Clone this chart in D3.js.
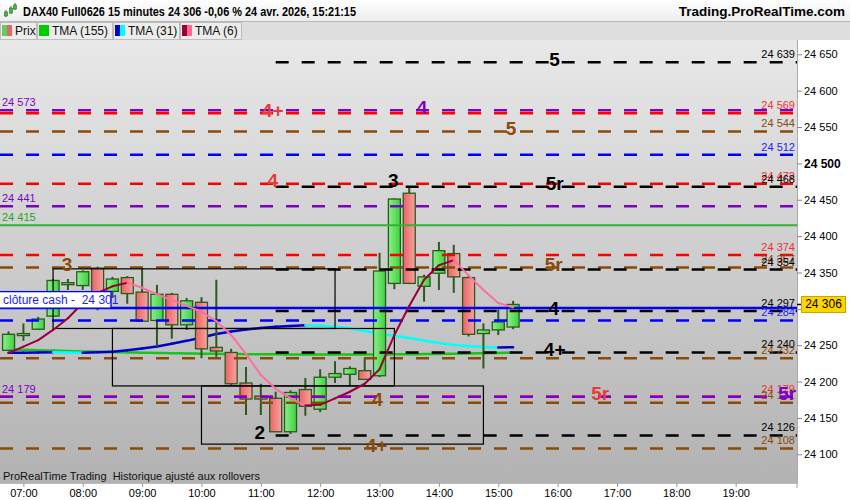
<!DOCTYPE html>
<html><head><meta charset="utf-8">
<script src="https://cdn.jsdelivr.net/npm/d3@7"></script>
<style>
html,body{margin:0;padding:0;background:#fff;}
svg{display:block;font-family:"Liberation Sans",Arial,sans-serif;}
</style></head>
<body>
<svg id="c" width="850" height="500"></svg>
<script>
// ---------- DATA ----------
const times = ["06:45","07:00","07:15","07:30","07:45","08:00","08:15","08:30","08:45","09:00","09:15","09:30","09:45","10:00","10:15","10:30","10:45","11:00","11:15","11:30","11:45","12:00","12:15","12:30","12:45","13:00","13:15","13:30","13:45","14:00","14:15","14:30","14:45","15:00","15:15"];
const opens  = [24243,24264,24272,24290,24334,24332,24356,24324,24343,24323,24284,24320,24278,24309,24247,24240,24198,24180,24177,24131,24189,24162,24206,24210,24215,24208,24335,24459,24331,24349,24376,24343,24266,24271,24275];
const highs  = [24269,24280,24289,24341,24341,24353,24358,24344,24345,24356,24333,24322,24315,24316,24340,24245,24220,24197,24186,24188,24205,24217,24228,24221,24233,24377,24452,24467,24347,24392,24388,24345,24280,24299,24311];
const lows   = [24242,24256,24271,24289,24326,24326,24298,24315,24307,24283,24248,24259,24271,24232,24234,24195,24154,24154,24131,24128,24153,24158,24198,24194,24203,24206,24327,24334,24310,24326,24322,24262,24218,24264,24272];
const closes = [24265,24266,24286,24339,24336,24351,24303,24341,24321,24283,24320,24278,24311,24245,24242,24197,24176,24176,24131,24185,24166,24206,24211,24218,24203,24352,24451,24335,24344,24380,24344,24265,24271,24282,24306];

const tma6   = [24239,24248,24257,24271,24287,24308,24322,24331,24336,24329,24320,24312,24304,24296,24283,24264,24238,24209,24190,24177,24167,24168,24177,24186,24197,24217,24264,24304,24340,24360,24367,24346,24326,24308,24302];
const tma31  = [24239.6,24239.8,24240,24240.2,24240,24239.8,24240.3,24241,24243,24245.5,24248.3,24252,24256,24260.6,24265.4,24268.8,24271.6,24273.7,24275.3,24276.4,24277.4,24276.7,24275.5,24273,24269.5,24266,24263,24260,24256.5,24253,24250.3,24248.5,24247.5,24246.9,24247.1];
const tma155 = [24244.1,24243.6,24243.1,24242.6,24242,24241.4,24241,24240.5,24240.1,24239.7,24239.3,24239,24238.7,24238.4,24238.1,24237.9,24237.7,24237.5,24237.4,24237.3,24237.2,24237.2,24237.2,24237.2,24237.2,24237.2,24237.4,24237.6,24237.8,24238,24238.3,24238.6,24239,24239.4,24239.7];

// horizontal levels
const levelValues = [24639,24573,24569,24544,24512,24472,24468,24441,24415,24374,24357,24354,24301,24297,24284,24240,24232,24179,24179,24171,24126,24108];
const levelKinds  = ["black","purple","red","brown","blue","red","black","purple","green","red","brown","black","cash","black","blue","black","brown","red","purple","brown","black","brown"];
const levelStarts = [ "11:15",null,null,null,null,null,"11:15",null,null,null,null,"11:15",null,"11:15",null,"11:15",null,null,null,null,"11:15",null];
const levelLabelSide = ["right","left","right","right","right","right","right","left","left","right","right","right","none","right","right","right","right","right","left","right","right","right"];

// wave labels on levels
const tagTexts  = ["5","4+","4","5","4","3","5r","3","5r","4","4+","2","4","4+","5r","5r"];
const tagValues = [24639,24569,24573,24544,24472,24472,24468,24357,24357,24297,24240,24126,24171,24108,24179,24179];
const tagTimes  = ["15:57","11:12","13:43","15:13","11:12","13:14","15:57","07:44","15:56","15:56","15:57","10:59","12:58","12:57","16:43","19:52"];
const tagKinds  = ["black","red","purple","brown","red","black","black","brown","brown","black","black","black","brown","brown","red","purple"];

// boxes
const boxStarts = ["07:30","08:30","10:00"];
const boxEnds   = ["12:15","13:15","14:45"];
const boxTops   = [24355,24273,24194];
const boxBottoms= [24273,24194,24114];

const priceTicks = [24650,24600,24550,24500,24450,24400,24350,24300,24250,24200,24150,24100];
const hourTicks  = ["07:00","08:00","09:00","10:00","11:00","12:00","13:00","14:00","15:00","16:00","17:00","18:00","19:00"];
const lastPrice = 24306;
const cashClose = 24301;
const title = "DAX40 Full0626 15 minutes 24 306 -0,06 % 24 avr. 2026, 15:21:15";

// ---------- STYLES ----------
const colors = {black:"#000000",red:"#ff0000",purple:"#7f00c8",brown:"#8b4a08",blue:"#0000ff",green:"#33b233",cash:"#0000ff"};
const labelColors = {black:"#000000",red:"#ee3333",purple:"#7f00c8",brown:"#8b4a08",blue:"#2222ff",green:"#22aa22"};
const tagColors = {black:"#000000",red:"#e83a3a",purple:"#7f00c8",brown:"#8b4a08"};

const W=850,H=500, L=0, R=797, T=40, B=483;
const svg = d3.select("#c");
const day = t => { const [h,m]=t.split(":").map(Number); return new Date(2026,3,24,h,m); };
const fmt = v => d3.format(",")(v).replace(",", " ");

const x = d3.scaleTime().domain([day("07:00"),day("19:00")]).range([23.4,735.7]);
const y = d3.scaleLinear().domain([24100,24650]).range([454.3,54.3]);

const defs = svg.append("defs");
function lg(id, stops, vertical){
  const g = defs.append("linearGradient").attr("id",id).attr("x1","0").attr("y1","0")
    .attr("x2", vertical?"0":"1").attr("y2", vertical?"1":"0");
  stops.forEach(s=>g.append("stop").attr("offset",s[0]).attr("stop-color",s[1]));
}
lg("bg",[[0,"#e8e8e8"],[1,"#b2b2b2"]],true);
lg("hdr",[[0,"#ffffff"],[1,"#ececec"]],true);
lg("gc",[[0,"#8cee8c"],[1,"#3ed23e"]],false);
lg("rc",[[0,"#ec6464"],[1,"#f6a2a2"]],false);
defs.append("clipPath").attr("id","clip").append("rect").attr("x",L).attr("y",T).attr("width",R-L).attr("height",B-T);

// header
svg.append("rect").attr("x",0).attr("y",0).attr("width",W).attr("height",22).attr("fill","url(#hdr)");
svg.append("line").attr("x1",0).attr("x2",W).attr("y1",21.5).attr("y2",21.5).attr("stroke","#b8b8b8");
// small candle icon
[[6,10,17,12,15,"#3fbf3f"],[11,6,14,8,12,"#3fbf3f"],[15,3,10,5,8,"#3fbf3f"]].forEach(c=>{
  svg.append("line").attr("x1",c[0]).attr("x2",c[0]).attr("y1",c[1]).attr("y2",c[2]).attr("stroke","#2a6a2a").attr("stroke-width",1);
  svg.append("rect").attr("x",c[0]-1.5).attr("y",c[3]).attr("width",3).attr("height",c[4]-c[3]+1).attr("fill",c[5]).attr("stroke","#2a6a2a").attr("stroke-width",0.6);
});
svg.append("text").attr("x",23).attr("y",15.5).attr("font-size",12.5).attr("font-weight","bold")
  .attr("textLength",333).attr("lengthAdjust","spacingAndGlyphs").text(title);
svg.append("text").attr("x",845).attr("y",15.5).attr("text-anchor","end").attr("font-size",13.5).attr("font-weight","bold").text("Trading.ProRealTime.com");

// legend bar
svg.append("rect").attr("x",0).attr("y",22).attr("width",W).attr("height",18).attr("fill","#dedede");
const tabs = [
  {x0:0,x1:37,text:"Prix",sw:["#5ccf5c","#e06868"]},
  {x0:37,x1:113,text:"TMA (155)",sw:["#00cc00","#00cc00"]},
  {x0:113,x1:180,text:"TMA (31)",sw:["#0000cc","#00ffff"]},
  {x0:180,x1:242,text:"TMA (6)",sw:["#990033","#ff6699"]}
];
tabs.forEach(t=>{
  svg.append("rect").attr("x",t.x0+0.5).attr("y",22.5).attr("width",t.x1-t.x0-1).attr("height",17).attr("fill","#ececec").attr("stroke","#bdbdbd");
  svg.append("rect").attr("x",t.x0+2).attr("y",25).attr("width",5).attr("height",11).attr("fill",t.sw[0]);
  svg.append("rect").attr("x",t.x0+7).attr("y",25).attr("width",5).attr("height",11).attr("fill",t.sw[1]);
  svg.append("text").attr("x",t.x0+15).attr("y",35).attr("font-size",12).attr("fill","#111").text(t.text);
});

// chart bg
svg.append("rect").attr("x",L).attr("y",T).attr("width",R-L).attr("height",B-T).attr("fill","url(#bg)");
const plot = svg.append("g").attr("clip-path","url(#clip)");

// moving averages helper
function maSegments(g, vals, up, down, w){
  for(let i=1;i<vals.length;i++){
    const col = vals[i]>=vals[i-1]?up:down;
    g.append("line")
      .attr("x1",x(day(times[i-1]))).attr("y1",y(vals[i-1]))
      .attr("x2",x(day(times[i]))).attr("y2",y(vals[i]))
      .attr("stroke",col).attr("stroke-width",w).attr("stroke-linecap","round");
  }
}
// TMA 155
plot.append("path").datum(tma155)
  .attr("d",d3.line().x((d,i)=>x(day(times[i]))).y(d=>y(d)).curve(d3.curveMonotoneX))
  .attr("fill","none").attr("stroke","#18c418").attr("stroke-width",2.5);
// TMA 31
maSegments(plot.append("g"), tma31, "#0000cc", "#00ffff", 2.5);

// candles
const cw = 12;
const cg = plot.append("g");
times.forEach((t,i)=>{
  const cx = x(day(t));
  const up = closes[i]>=opens[i];
  cg.append("line").attr("x1",cx).attr("x2",cx).attr("y1",y(highs[i])).attr("y2",y(lows[i]))
    .attr("stroke","#2b5a1c").attr("stroke-width",2);
  const yt = y(Math.max(opens[i],closes[i])), yb = y(Math.min(opens[i],closes[i]));
  cg.append("rect").attr("x",cx-cw/2).attr("y",yt).attr("width",cw).attr("height",Math.max(2,yb-yt))
    .attr("fill",up?"url(#gc)":"url(#rc)").attr("stroke","#2b5a1c").attr("stroke-width",1.3);
});

// level lines
const lg2 = plot.append("g");
levelValues.forEach((v,i)=>{
  const k = levelKinds[i];
  const x0 = levelStarts[i]? x(day(levelStarts[i])) : L;
  const ln = lg2.append("line").attr("x1",x0).attr("x2",R).attr("y1",y(v)).attr("y2",y(v))
    .attr("stroke",colors[k]);
  if(k==="green"){ ln.attr("stroke-width",2); }
  else if(k==="cash"){ ln.attr("stroke-width",2.5); }
  else { ln.attr("stroke-width",2.5).attr("stroke-dasharray","13,13"); }
});

// boxes
boxStarts.forEach((s,i)=>{
  const x0=x(day(s)), x1=x(day(boxEnds[i]));
  plot.append("rect").attr("x",x0).attr("y",y(boxTops[i])).attr("width",x1-x0).attr("height",y(boxBottoms[i])-y(boxTops[i]))
    .attr("fill","none").attr("stroke","#000").attr("stroke-width",1.2);
});

// TMA 6
maSegments(plot.append("g"), tma6, "#99003a", "#ff6f9c", 2);

// level value labels
levelValues.forEach((v,i)=>{
  const side = levelLabelSide[i]; if(side==="none") return;
  const k = levelKinds[i];
  const t = plot.append("text").attr("font-size",11).attr("fill",labelColors[k]).text(fmt(v));
  if(side==="right") t.attr("x",795).attr("y",y(v)-4).attr("text-anchor","end");
  else t.attr("x",2).attr("y",y(v)-4);
});

// cash close box
plot.append("rect").attr("x",-1).attr("y",y(cashClose)-16.5).attr("width",112).attr("height",16.5)
  .attr("fill","#fff").attr("stroke","#0000ff").attr("stroke-width",1.3);
plot.append("text").attr("x",3).attr("y",y(cashClose)-4).attr("font-size",12).attr("fill","#2020ff")
  .attr("xml:space","preserve").text("clôture cash -  " + fmt(cashClose));

// wave tags
tagTexts.forEach((s,i)=>{
  plot.append("text").attr("x",x(day(tagTimes[i]))).attr("y",y(tagValues[i])-3)
    .attr("text-anchor","middle").attr("dominant-baseline","central")
    .attr("font-size",19).attr("font-weight","bold").attr("fill",tagColors[tagKinds[i]]).text(s);
});

// bottom-left text
svg.append("text").attr("x",3).attr("y",480).attr("font-size",11).attr("fill","#111")
  .attr("xml:space","preserve").text("ProRealTime Trading  Historique ajusté aux rollovers");

// right axis panel
svg.append("rect").attr("x",R).attr("y",T).attr("width",W-R).attr("height",H-T).attr("fill","#fff");
svg.append("rect").attr("x",0).attr("y",B).attr("width",W).attr("height",H-B).attr("fill","#fff");
svg.append("line").attr("x1",R+0.5).attr("x2",R+0.5).attr("y1",T).attr("y2",B).attr("stroke","#aaa");
svg.append("line").attr("x1",0).attr("x2",R).attr("y1",B+0.5).attr("y2",B+0.5).attr("stroke","#bbb");

// tick labels hidden behind the last-price tag are not drawn
const yAxis = d3.axisRight(y).tickValues(priceTicks).tickSize(5)
  .tickFormat(d => Math.abs(y(d)-y(lastPrice))<12 ? "" : fmt(d));
const ya = svg.append("g").attr("transform",`translate(${R},0)`).call(yAxis);
ya.select(".domain").remove();
ya.selectAll(".tick line").attr("stroke","#888");
ya.selectAll(".tick text").attr("x",7).attr("font-size",11).attr("font-family","Liberation Sans, Arial").attr("fill","#000")
  .filter(d=>d===24500).attr("font-weight","bold").attr("font-size",12);

// last price tag
svg.append("line").attr("x1",R).attr("x2",R+6).attr("y1",y(lastPrice)).attr("y2",y(lastPrice)).attr("stroke","#000").attr("stroke-width",1.5);
svg.append("rect").attr("x",801.5).attr("y",y(lastPrice)-8).attr("width",44).attr("height",16).attr("fill","#ffd400").attr("stroke","#c9a400");
svg.append("text").attr("x",823.5).attr("y",y(lastPrice)+4).attr("text-anchor","middle").attr("font-size",12).attr("fill","#000").text(fmt(lastPrice));

// x axis
const xAxis = d3.axisBottom(x).tickValues(hourTicks.map(day)).tickSize(4).tickFormat(d3.timeFormat("%H:%M"));
const xa = svg.append("g").attr("transform",`translate(0,${B})`).call(xAxis);
xa.select(".domain").remove();
xa.selectAll(".tick line").attr("stroke","#999");
xa.selectAll(".tick text").attr("y",13.5).attr("dy",0).attr("font-size",11).attr("font-family","Liberation Sans, Arial").attr("fill","#000");
svg.append("line").attr("x1",R).attr("x2",R).attr("y1",B).attr("y2",B+5).attr("stroke","#999");
</script>
</body></html>
